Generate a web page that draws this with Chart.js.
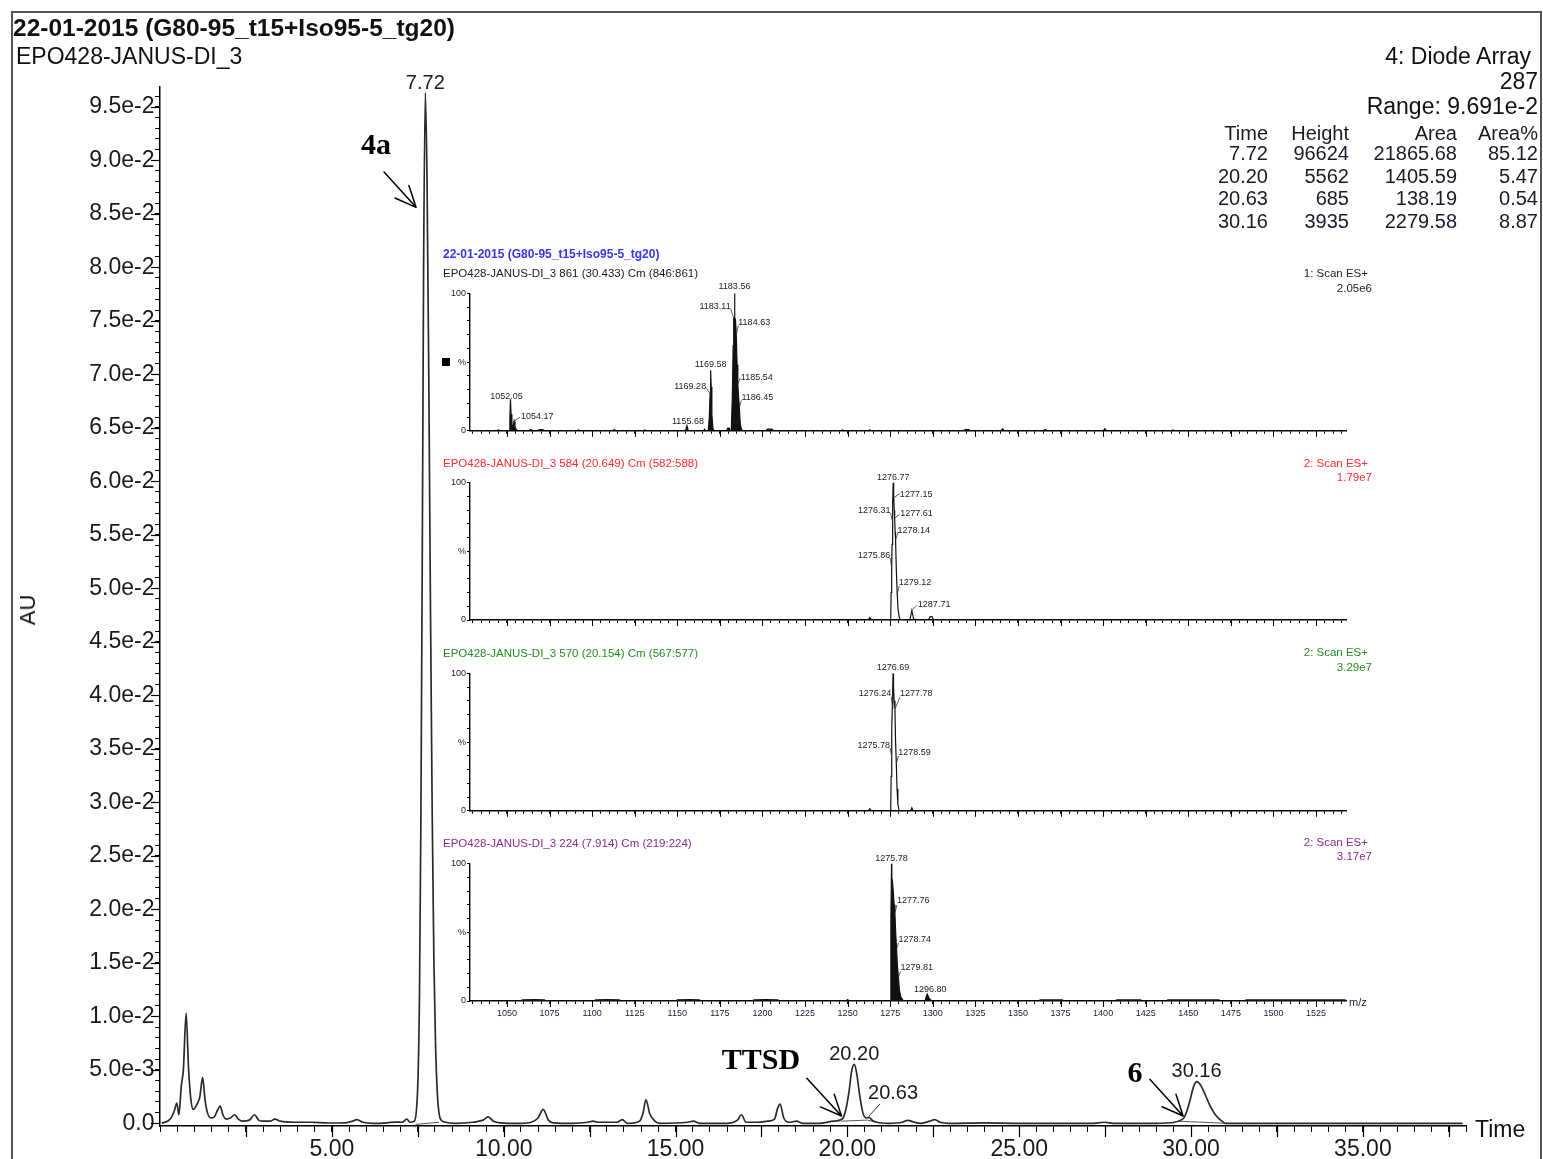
<!DOCTYPE html>
<html><head><meta charset="utf-8">
<script src="https://cdn.jsdelivr.net/npm/chart.js@4.4.1/dist/chart.umd.min.js"></script>
<style>
html,body{margin:0;padding:0;background:#fff;}
#wrap{position:relative;width:1543px;height:1159px;overflow:hidden;font-family:'Liberation Sans',Arial,sans-serif;background:#fff;}
canvas{position:absolute;}
.t{position:absolute;white-space:nowrap;line-height:1;}
#frame{position:absolute;left:11px;top:11px;width:1531px;height:1300px;border:2px solid #555;box-sizing:border-box;}
</style></head>
<body><div id="wrap">
<div id="frame"></div>
<canvas id="main" width="1543" height="1159" style="left:0;top:0"></canvas>
</div>
<script>
// ================= DATA =================
// Chromatogram (Diode Array 287): [time (min), absorbance (AU)]
const chromatogram = [
[0.05,0],[0.30,0.0004],[0.42,0.0012],[0.49,0.0019],[0.55,0.0008],[0.62,0.0035],[0.68,0.0050],[0.76,0.0103],[0.83,0.0052],[0.90,0.0022],[0.97,0.0013],[1.08,0.0018],[1.16,0.0025],[1.24,0.0043],[1.31,0.0022],[1.38,0.0010],[1.48,0.0005],[1.58,0.0006],[1.67,0.0012],[1.75,0.0016],[1.83,0.0008],[1.92,0.0004],[2.05,0.0005],[2.17,0.0008],[2.28,0.0004],[2.40,0.0002],[2.60,0.0003],[2.75,0.0008],[2.87,0.0003],[3.00,0.0002],[3.20,0.0002],[3.35,0.0004],[3.50,0.0002],[3.90,0.0001],[4.40,0.0001],[4.90,0.00003],[5.40,0.00005],[5.60,0.0002],[5.73,0.00035],[5.90,0.0001],[6.20,0],[6.60,0.00005],[6.85,0.00012],[7.05,0.0001],[7.18,0.0004],[7.28,0.0001],
[7.40,0.0002],[7.46,0.0012],[7.51,0.0045],[7.55,0.0120],[7.59,0.0280],[7.63,0.0520],[7.67,0.0800],[7.72,0.0963],[7.77,0.0880],[7.82,0.0700],[7.87,0.0480],[7.92,0.0290],[7.97,0.0150],[8.02,0.0070],[8.07,0.0028],[8.12,0.0009],[8.18,0.0003],[8.30,0.0001],
[8.60,0],[9.10,0.0001],[9.40,0.0003],[9.55,0.0006],[9.70,0.0002],[9.90,0.00005],[10.50,0],[10.80,0.0001],[11.00,0.0005],[11.15,0.0013],[11.30,0.0003],[11.45,0.00005],[12.00,0],[12.45,0.0001],[12.60,0.0002],[12.75,0.0001],[13.30,0.0001],[13.45,0.00035],[13.60,0],[13.95,0.0002],[14.05,0.0009],[14.14,0.0022],[14.25,0.0009],[14.40,0.0002],[14.55,0],[15.35,0.0001],[15.52,0.0002],[15.70,0],[16.50,0],[16.80,0.0003],[16.92,0.0008],[17.05,0.0001],[17.40,0.0001],[17.68,0.0002],[17.88,0.0004],[17.97,0.0014],[18.04,0.0018],[18.15,0.0005],[18.30,0.0001],[18.52,0.0002],[18.70,0],[19.20,0],[19.60,0.0002],[19.85,0.0004],[19.95,0.0012],[20.05,0.0030],[20.12,0.0048],[20.20,0.0055],[20.27,0.0047],[20.35,0.0028],[20.45,0.0010],[20.55,0.0005],[20.63,0.00056],[20.72,0.0003],[20.85,0.0001],[21.20,0],[21.60,0.0001],[21.76,0.00028],[21.95,0.0001],[22.15,0],[22.40,0.0002],[22.54,0.00035],[22.70,0.0001],[22.95,0],[24.00,0.00005],[25.00,0],[26.00,0],[27.10,0],[27.47,0.0001],[27.80,0],[29.00,0],[29.52,0.0001],[29.70,0.0003],[29.81,0.0006],[29.95,0.0019],[30.08,0.0035],[30.17,0.0039],[30.25,0.0037],[30.34,0.0032],[30.53,0.0018],[30.73,0.0007],[30.90,0.0002],[31.00,0],[32.00,0],[33.50,0],[35.00,0],[36.50,0],[37.90,0]
];
// Integrated peaks (table)
const peakTimes   = [7.72, 20.20, 20.63, 30.16];
const peakHeights = [96624, 5562, 685, 3935];
const peakAreas   = [21865.68, 1405.59, 138.19, 2279.58];
const peakAreaPct = [85.12, 5.47, 0.54, 8.87];
// Integration baselines
const integStart = [[7.44,-0.0001],[19.82,0.0002],[20.58,0.0003],[29.60,0.0002]];
const integEnd   = [[8.12,0.0001],[20.58,0.0003],[20.85,0.0001],[31.05,0.0]];
// Axis ticks
const auTickValues = [0,0.005,0.010,0.015,0.020,0.025,0.030,0.035,0.040,0.045,0.050,0.055,0.060,0.065,0.070,0.075,0.080,0.085,0.090,0.095];
const auTickLabels = ['0.0','5.0e-3','1.0e-2','1.5e-2','2.0e-2','2.5e-2','3.0e-2','3.5e-2','4.0e-2','4.5e-2','5.0e-2','5.5e-2','6.0e-2','6.5e-2','7.0e-2','7.5e-2','8.0e-2','8.5e-2','9.0e-2','9.5e-2'];
const timeTickValues = [5,10,15,20,25,30,35];
const timeTickLabels = ['5.00','10.00','15.00','20.00','25.00','30.00','35.00'];
const timeMajorTicks = [2.5,5,7.5,10,12.5,15,17.5,20,22.5,25,27.5,30,32.5,35,37.5];
// Compound annotations (arrows in data coordinates)
const annotText = ['4a','TTSD','6'];
const arrowStart = [[6.52,0.0889],[18.82,0.00421],[28.80,0.00411]];
const arrowEnd   = [[7.45,0.0856],[19.83,0.00068],[29.77,0.00068]];

// Mass spectra insets: [m/z, relative intensity %]
const ms1Spectrum = [[1028.3,0],[1044,0],[1045,0.6],[1046,0],[1051.3,0],[1051.7,8],[1052.05,23],[1052.4,12],[1052.9,4],[1053.5,3],[1054.17,7],[1054.7,3],[1055.5,0.8],[1056.5,0],[1063,0],[1064,1],[1065,0],[1068,0],[1069,0.8],[1071,0.8],[1072,0],[1091,0],[1092,0.7],[1093,0],[1112,0],[1113,0.8],[1114,0],[1130,0],[1131,0.6],[1132,0],[1154.8,0],[1155.68,3.7],[1156.5,0],[1165.3,0],[1166,1.2],[1166.7,0],[1168.2,0],[1168.8,10],[1169.28,27],[1169.58,44],[1169.9,32],[1170.3,12],[1170.9,2],[1171.5,0],[1179,0],[1179.6,2],[1180.4,2],[1181,0],[1181.7,0],[1182.3,25],[1182.8,62],[1183.11,82],[1183.3,74],[1183.56,100],[1183.85,78],[1184.2,80],[1184.63,70],[1185.1,48],[1185.54,34],[1186.0,24],[1186.45,17],[1186.9,6],[1187.6,1],[1188.5,0],[1202,0],[1203,1.2],[1205.5,1.2],[1206.5,0],[1246,0],[1247,0.6],[1248,0],[1262,0],[1263,0.7],[1264,0],[1318,0],[1319,0.8],[1321,0.8],[1322,0],[1340,0],[1341,1.5],[1342,0],[1365,0],[1366,1],[1367,0],[1400,0],[1401,1.5],[1402,0],[1440,0],[1441,0.6],[1442,0],[1543,0]];
const ms2Spectrum = [[1028.3,0],[1262,0],[1263,1.8],[1264,0],[1275.3,0],[1275.55,20],[1275.86,38],[1276.1,55],[1276.31,72],[1276.55,85],[1276.77,100],[1276.95,93],[1277.15,89],[1277.4,80],[1277.61,74],[1277.9,64],[1278.14,58],[1278.6,36],[1279.12,19],[1279.6,8],[1280.3,2],[1281,0],[1286.6,0],[1287.2,4],[1287.71,7],[1288.2,4],[1288.8,0.5],[1290,0.5],[1291,0],[1297.5,0],[1298.5,2.5],[1299.5,2.5],[1300.5,0],[1543,0]];
const ms3Spectrum = [[1028.3,0],[1262,0],[1263,1.5],[1264,0],[1275.3,0],[1275.55,25],[1275.78,40],[1276.0,60],[1276.24,75],[1276.45,88],[1276.69,100],[1276.95,90],[1277.3,80],[1277.78,74],[1278.1,52],[1278.59,34],[1279.0,16],[1279.5,5],[1280.2,0],[1287,0],[1287.7,2.2],[1288.5,0],[1543,0]];
const ms4Spectrum = [[1028.3,0],[1058,0],[1059,0.8],[1066,1],[1072,0.8],[1073,0],[1101,0],[1102,0.8],[1109,1],[1116,0.8],[1117,0],[1149,0],[1150,0.8],[1157,1],[1163,0.8],[1164,0],[1194,0],[1195,0.8],[1202,1],[1209,0.8],[1210,0],[1249,0],[1250,1],[1251,0],[1275.1,0],[1275.4,60],[1275.78,100],[1275.95,90],[1276.4,86],[1276.9,78],[1277.3,70],[1277.76,64],[1278.2,50],[1278.74,38],[1279.2,26],[1279.81,17],[1280.4,8],[1281.2,3],[1282.5,0.5],[1283.5,0],[1295.5,0],[1296.2,3.5],[1296.8,5],[1297.6,2.5],[1298.6,0.8],[1300,0],[1362,0],[1363,0.8],[1376,0.8],[1377,0],[1407,0],[1408,0.8],[1422,0.8],[1423,0],[1437,0],[1438,0.8],[1468,0.8],[1469,0],[1483,0],[1484,0.8],[1542,0.8],[1543,0]];
// Labelled masses
const ms1LabelMz = [1052.05,1054.17,1155.68,1169.28,1169.58,1183.11,1183.56,1184.63,1185.54,1186.45];
const ms2LabelMz = [1276.77,1277.15,1276.31,1277.61,1278.14,1275.86,1279.12,1287.71];
const ms3LabelMz = [1276.69,1276.24,1277.78,1275.78,1278.59];
const ms4LabelMz = [1275.78,1277.76,1278.74,1279.81,1296.80];
// Inset headers
const msTitles = ['EPO428-JANUS-DI_3 861 (30.433) Cm (846:861)','EPO428-JANUS-DI_3 584 (20.649) Cm (582:588)','EPO428-JANUS-DI_3 570 (20.154) Cm (567:577)','EPO428-JANUS-DI_3 224 (7.914) Cm (219:224)'];
const msScans = ['1: Scan ES+','2: Scan ES+','2: Scan ES+','2: Scan ES+'];
const msBpi = ['2.05e6','1.79e7','3.29e7','3.17e7'];
const mzTickValues = [1050,1075,1100,1125,1150,1175,1200,1225,1250,1275,1300,1325,1350,1375,1400,1425,1450,1475,1500,1525];
const mzTickLabels = ['1050','1075','1100','1125','1150','1175','1200','1225','1250','1275','1300','1325','1350','1375','1400','1425','1450','1475','1500','1525'];
const pctTickValues = [0,50,100];
const pctTickLabels = ['0','%','100'];

// ================= STYLES (label placement: [align, dx, dy, leaderDx, leaderDy]) =================
const ms1LabelStyle = [['center',-4,0,null,null],['left',7,-2,6,-4],['center',1,-2,null,null],['right',-4,-5,-4,-6],['center',0,-3,null,null],['right',-3,-9,-3,-9],['center',0,-4,null,null],['left',2,-10,2,-9],['left',3,-4,2.5,-6],['left',2,-7.5,2,-7]];
const ms2LabelStyle = [['center',0,-3,null,null],['left',6,-1,6,-4],['right',-2,-8.5,-2,-8],['left',5.5,-2,5,-4],['left',2,-7,2.5,-8],['right',-1.5,-10,-1.5,-10],['left',1.5,-9,2,-8],['left',6,-3,5,-5]];
const ms3LabelStyle = [['center',0,-3,null,null],['right',-1,-12,-1,-11],['left',5,-13,5,-12],['right',-1.5,-7.5,-1.5,-8],['left',2,-9,2,-8]];
const ms4LabelStyle = [['center',0,-3,null,null],['left',2,-10,2,-8],['left',2,-7,2,-6],['left',2,-7.5,2,-6],['center',3,-2.5,null,null]];
const peakLabelStyle = [['center',0,0,null,null],['center',0,-4,null,null],['left',-1,-17,11,-12],['center',0,-4,null,null]];

const SANS = "'Liberation Sans', Arial, sans-serif";
const NARROW = "'Liberation Sans Narrow', 'Liberation Sans', Arial, sans-serif";
const SERIF = "'Liberation Serif', 'Times New Roman', serif";
Chart.defaults.font.family = SANS;

// ================= PLUGINS =================
const majorTicks = {
  id: 'majorTicks',
  afterDraw(chart, args, o) {
    if (!o || !o.axes) return;
    const c = chart.ctx; c.save(); c.strokeStyle = o.color || '#000'; c.lineWidth = o.width || 1;
    o.axes.forEach(a => {
      const s = chart.scales[a.id];
      a.values.forEach(v => {
        const p = Math.round(s.getPixelForValue(v)) + 0.5;
        c.beginPath();
        if (s.isHorizontal()) { c.moveTo(p, s.top); c.lineTo(p, s.top + a.length); }
        else { c.moveTo(s.right, p); c.lineTo(s.right - a.length, p); }
        c.stroke();
      });
    });
    c.restore();
  }
};
const peakLabels = {
  id: 'peakLabels',
  afterDatasetsDraw(chart, args, o) {
    if (!o || !o.items) return;
    const c = chart.ctx, xs = chart.scales.x, ys = chart.scales.y;
    c.save(); c.font = o.font; c.fillStyle = o.color; c.strokeStyle = o.lineColor; c.lineWidth = o.lineWidth;
    c.textBaseline = 'alphabetic';
    o.items.forEach(it => {
      const px = xs.getPixelForValue(it.x), py = ys.getPixelForValue(it.y);
      const [align, dx, dy, lx, ly] = it.style;
      if (lx !== null) { c.beginPath(); c.moveTo(px, py); c.lineTo(px + lx, py + ly); c.stroke(); }
      c.textAlign = align; c.fillText(it.text, px + dx, py + dy);
    });
    c.restore();
  }
};
const arrows = {
  id: 'arrows',
  afterDatasetsDraw(chart, args, o) {
    if (!o || !o.from) return;
    const c = chart.ctx, xs = chart.scales.x, ys = chart.scales.y;
    c.save(); c.strokeStyle = '#000'; c.lineWidth = 1.5; c.lineCap = 'round';
    o.from.forEach((f, i) => {
      const x0 = xs.getPixelForValue(f[0]), y0 = ys.getPixelForValue(f[1]);
      const x1 = xs.getPixelForValue(o.to[i][0]), y1 = ys.getPixelForValue(o.to[i][1]);
      const ang = Math.atan2(y1 - y0, x1 - x0);
      c.beginPath(); c.moveTo(x0, y0); c.lineTo(x1, y1);
      [0.42, -0.42].forEach(d => {
        c.moveTo(x1, y1);
        c.lineTo(x1 - o.head * Math.cos(ang + d), y1 - o.head * Math.sin(ang + d));
      });
      c.stroke();
    });
    c.restore();
  }
};

function near(v, list) { return list.findIndex(t => Math.abs(t - v) < 1e-7); }

// ================= MAIN CHROMATOGRAM =================
const baselineSets = integStart.map((s, i) => ({
  data: [{x: s[0], y: s[1]}, {x: integEnd[i][0], y: integEnd[i][1]}],
  borderColor: '#555', borderWidth: 1, pointRadius: 0, tension: 0
}));
new Chart(document.getElementById('main'), {
  type: 'line',
  data: { datasets: [{
      data: chromatogram.map(p => ({x: p[0], y: p[1]})),
      borderColor: '#2a2a2a', borderWidth: 1.7, pointRadius: 0, cubicInterpolationMode: 'monotone', fill: false
    }, ...baselineSets] },
  options: {
    responsive: false, animation: false, devicePixelRatio: 1, events: [],
    layout: { padding: { left: 0, top: 86.4, right: 77, bottom: 0 } },
    plugins: {
      legend: { display: false }, tooltip: { enabled: false },
      majorTicks: { color: '#000', width: 1.2, axes: [{id: 'x', values: timeMajorTicks, length: 11}, {id: 'y', values: auTickValues, length: 9}] },
      peakLabels: { font: '20px ' + SANS, color: '#1a1a1a', lineColor: '#333', lineWidth: 1,
        items: peakTimes.map((t, i) => ({x: t, y: peakHeights[i] * 1e-6, text: t.toFixed(2), style: peakLabelStyle[i]})) },
      arrows: { from: arrowStart, to: arrowEnd, head: 23 }
    },
    scales: {
      x: { type: 'linear', min: 0, max: 38,
        afterFit(s) { s.height = 33; },
        ticks: { stepSize: 0.5, includeBounds: false, autoSkip: false, maxRotation: 0, minRotation: 0, padding: 4,
          color: '#1a1a1a', font: { size: 23, family: SANS },
          callback(v) { const i = near(v, timeTickValues); return i >= 0 ? timeTickLabels[i] : ''; } },
        grid: { drawOnChartArea: false, tickLength: 6, tickColor: '#000', tickWidth: 1 },
        border: { color: '#000', width: 1.5 } },
      y: { type: 'linear', min: -0.00025, max: 0.0969,
        afterFit(s) { s.width = 160; },
        ticks: { stepSize: 0.001, includeBounds: false, autoSkip: false, padding: 0.5,
          color: '#1a1a1a', font: { size: 23, family: SANS },
          callback(v) { const i = near(v, auTickValues); return i >= 0 ? auTickLabels[i] : ''; } },
        grid: { drawOnChartArea: false, tickLength: 5, tickColor: '#000', tickWidth: 1 },
        border: { color: '#000', width: 1.5 } }
    }
  },
  plugins: [majorTicks, peakLabels, arrows]
});

// ================= MASS SPECTRA INSETS =================
const wrap = document.getElementById('wrap');
const insets = [
  { spec: ms1Spectrum, labels: ms1LabelMz, style: ms1LabelStyle, top: 293.3, fill: true, showX: false },
  { spec: ms2Spectrum, labels: ms2LabelMz, style: ms2LabelStyle, top: 482.5, fill: false, showX: false },
  { spec: ms3Spectrum, labels: ms3LabelMz, style: ms3LabelStyle, top: 673.3, fill: false, showX: false },
  { spec: ms4Spectrum, labels: ms4LabelMz, style: ms4LabelStyle, top: 863.5, fill: true, showX: true }
];
const PLOT_H = 137.5, CAN_L = 400, CAN_W = 980;
insets.forEach((ins, k) => {
  const cTop = Math.floor(ins.top) - 40, padTop = ins.top - cTop, cH = 210;
  const cv = document.createElement('canvas');
  cv.width = CAN_W; cv.height = cH; cv.style.left = CAN_L + 'px'; cv.style.top = cTop + 'px';
  wrap.appendChild(cv);
  const lookup = m => ins.spec[ins.spec.findIndex(p => Math.abs(p[0] - m) < 1e-7)][1];
  new Chart(cv, {
    type: 'line',
    data: { datasets: [{
      data: ins.spec.map(p => ({x: p[0], y: p[1]})),
      borderColor: '#111', borderWidth: 1.2, pointRadius: 0, tension: 0,
      fill: ins.fill ? 'origin' : false, backgroundColor: '#111'
    }] },
    options: {
      responsive: false, animation: false, devicePixelRatio: 1, events: [],
      layout: { padding: { left: 0, top: padTop, right: CAN_W - 946.7, bottom: 0 } },
      plugins: {
        legend: { display: false }, tooltip: { enabled: false },
        majorTicks: { color: '#000', width: 1, axes: [{id: 'x', values: mzTickValues, length: 6}] },
        peakLabels: { font: '9px ' + NARROW, color: '#222', lineColor: '#333', lineWidth: 0.8,
          items: ins.labels.map((m, i) => ({x: m, y: lookup(m), text: m.toFixed(2), style: ins.style[i]})) }
      },
      scales: {
        x: { type: 'linear', min: 1028.3, max: 1543,
          afterFit(s) { s.height = cH - padTop - PLOT_H; },
          ticks: { stepSize: 5, includeBounds: false, autoSkip: false, maxRotation: 0, minRotation: 0, padding: 4,
            color: '#1a1a3a', font: { size: 9, family: NARROW },
            callback(v) { if (!ins.showX) return ''; const i = near(v, mzTickValues); return i >= 0 ? mzTickLabels[i] : ''; } },
          grid: { drawOnChartArea: false, tickLength: 3, tickColor: '#000', tickWidth: 1 },
          border: { color: '#000', width: 1.4 } },
        y: { type: 'linear', min: 0, max: 100,
          afterFit(s) { s.width = 70; },
          ticks: { stepSize: 10, includeBounds: false, autoSkip: false, padding: 1,
            color: '#222', font: { size: 9, family: NARROW },
            callback(v) { const i = near(v, pctTickValues); return i >= 0 ? pctTickLabels[i] : ''; } },
          grid: { drawOnChartArea: false, tickLength: 3, tickColor: '#000', tickWidth: 1 },
          border: { color: '#000', width: 1.4 } }
      }
    },
    plugins: [majorTicks, peakLabels]
  });
});

// ================= TEXT =================
function txt(s, x, y, o) {
  const d = document.createElement('div'); d.className = 't'; d.textContent = s;
  d.style.left = x + 'px'; d.style.top = y + 'px';
  d.style.font = o.font; d.style.color = o.color || '#111';
  const ax = o.align === 'right' ? '-100%' : o.align === 'center' ? '-50%' : '0';
  d.style.transform = 'translate(' + ax + ',-50%)' + (o.rot ? ' rotate(' + o.rot + 'deg)' : '');
  d.style.zIndex = 5;
  wrap.appendChild(d);
}
txt('22-01-2015 (G80-95_t15+Iso95-5_tg20)', 13, 28, { font: 'bold 24.5px ' + SANS });
txt('EPO428-JANUS-DI_3', 16, 56, { font: '23px ' + SANS });
txt('4: Diode Array', 1531, 56, { font: '23px ' + SANS, align: 'right' });
txt('287', 1538, 81, { font: '23px ' + SANS, align: 'right' });
txt('Range: 9.691e-2', 1538, 106, { font: '23px ' + SANS, align: 'right' });
const colRight = [1268, 1349, 1457, 1538];
['Time', 'Height', 'Area', 'Area%'].forEach((h, j) => txt(h, colRight[j], 133, { font: '20px ' + SANS, align: 'right', color: '#1a1a2a' }));
const rowY = [152.5, 175.5, 197.5, 221];
peakTimes.forEach((t, i) => {
  const row = [t.toFixed(2), String(peakHeights[i]), peakAreas[i].toFixed(2), peakAreaPct[i].toFixed(2)];
  row.forEach((v, j) => txt(v, colRight[j], rowY[i], { font: '20px ' + SANS, align: 'right', color: '#1a1a2a' }));
});
txt('AU', 28, 610, { font: '22px ' + SANS, align: 'center', rot: -90 });
txt('Time', 1475, 1129, { font: '23px ' + SANS });
const annotPos = [[376, 144], [761, 1059], [1135, 1072]];
annotText.forEach((s, i) => txt(s, annotPos[i][0], annotPos[i][1], { font: 'bold 30px ' + SERIF, align: 'center', color: '#000' }));
// inset headers
txt('22-01-2015 (G80-95_t15+Iso95-5_tg20)', 443, 254, { font: 'bold 12px ' + SANS, color: '#3535f0' });
const subY = [273, 463, 653, 843], scanY = [272.5, 463, 652, 842], bpiY = [288, 477, 667, 856];
const msColors = ['#1a1a1a', '#ff2a2a', '#1f8f1f', '#8e2a8e'];
const scanColors = ['#2a2020', '#ff2a2a', '#1f8f1f', '#8e2a8e'];
msTitles.forEach((s, i) => {
  txt(s, 443, subY[i], { font: '11.5px ' + SANS, color: msColors[i] });
  txt(msScans[i], 1368, scanY[i], { font: '11.5px ' + SANS, align: 'right', color: scanColors[i] });
  txt(msBpi[i], 1372, bpiY[i], { font: '11.5px ' + SANS, align: 'right', color: scanColors[i] });
});
txt('m/z', 1349, 1002, { font: '11px ' + SANS, color: '#1a1a3a' });
const sq = document.createElement('div');
sq.style.cssText = 'position:absolute;left:442px;top:358px;width:8px;height:8px;background:#000;z-index:5';
wrap.appendChild(sq);
</script>
</body></html>
